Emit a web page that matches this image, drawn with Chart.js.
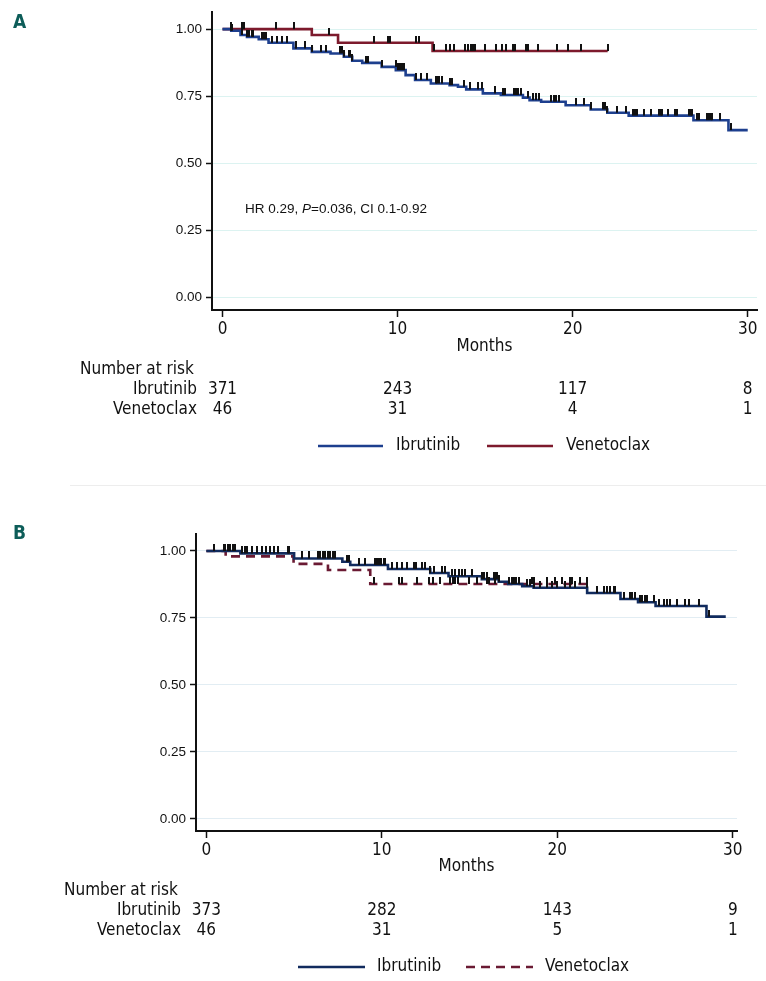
<!DOCTYPE html>
<html><head><meta charset="utf-8">
<script src="https://cdn.jsdelivr.net/npm/chart.js@4.4.1/dist/chart.umd.min.js"></script>
<style>
html,body{margin:0;padding:0;background:#fff;}
#wrap{position:relative;width:766px;height:981px;overflow:hidden;background:#fff;}
canvas{position:absolute;left:0;top:0;width:766px;height:981px;}
#sep{position:absolute;left:70px;top:485px;width:696px;height:1px;background:#ededed;}
</style></head><body>
<div id="wrap"><div id="sep"></div><canvas id="cA" width="766" height="981"></canvas><canvas id="cB" width="766" height="981"></canvas></div>
<script>
// ---------- DATA ----------
const monthTicks = [0, 10, 20, 30];
const survTicks = [0, 0.25, 0.5, 0.75, 1];
const seriesNames = ['Ibrutinib', 'Venetoclax'];

// Panel A
const aIbruTimes = [0,0.5,1.03,1.4,2.07,2.63,4.05,5.1,6.17,6.93,7.41,7.98,9.09,9.9,10.46,11.0,11.9,12.97,13.45,13.92,14.87,15.9,17.16,17.54,18.2,19.6,21.03,21.98,23.2,26.9,28.9,30.0];
const aIbruSurv  = [1.000,0.994,0.978,0.971,0.962,0.949,0.928,0.915,0.909,0.897,0.882,0.874,0.859,0.847,0.828,0.810,0.797,0.791,0.785,0.775,0.760,0.754,0.744,0.735,0.729,0.716,0.700,0.688,0.677,0.660,0.623,0.623];
const aIbruCens  = [0.51,0.57,1.13,1.41,1.5,1.66,1.73,2.27,2.36,2.46,2.84,3.13,3.41,3.7,4.17,4.21,4.74,5.13,5.6,5.89,6.69,6.8,6.93,7.22,7.31,7.41,8.17,8.33,9.13,9.89,10.04,10.15,10.27,10.38,11.03,11.31,11.7,12.17,12.27,12.36,12.51,12.97,13.09,13.79,14.11,14.61,14.84,15.54,16.02,16.13,16.65,16.74,16.9,17.03,17.47,17.73,17.89,18.07,18.74,18.93,19.07,19.22,20.17,20.65,21.03,21.73,21.85,21.98,22.55,23.07,23.45,23.56,23.7,24.07,24.46,24.93,25.03,25.13,25.47,25.85,25.98,26.65,26.74,26.84,27.13,27.22,27.7,27.79,27.89,27.98,28.42,29.03];
const aVeneTimes = [0,5.1,6.6,12.0,22.0];
const aVeneSurv  = [1.000,0.978,0.949,0.918,0.918];
const aVeneCens  = [0.5,1.1,1.25,3.07,4.1,6.06,8.67,9.47,9.58,11.07,11.22,12.07,12.74,12.97,13.2,13.83,14.04,14.19,14.3,14.42,14.99,15.64,15.98,16.17,16.61,16.7,17.31,17.47,18.02,19.12,19.71,20.47,22.0];
const aRiskIbru = [371, 243, 117, 8];
const aRiskVene = [46, 31, 4, 1];

// Panel B
const bIbruTimes = [0,1.94,5.0,7.75,8.2,10.35,12.76,13.8,15.7,16.66,17.2,18.0,18.65,21.7,23.6,24.6,25.6,28.5,29.6];
const bIbruSurv  = [1.000,0.991,0.972,0.960,0.948,0.933,0.918,0.906,0.895,0.885,0.877,0.869,0.863,0.843,0.821,0.809,0.795,0.755,0.755];
const bIbruCens  = [0.42,0.99,1.08,1.24,1.37,1.5,1.65,2.03,2.18,2.32,2.6,2.89,3.17,3.4,3.65,3.83,4.09,4.66,4.73,5.45,5.83,6.36,6.5,6.63,6.78,6.93,7.07,7.2,7.31,8.02,8.11,8.68,9.06,9.59,9.73,9.86,9.97,10.1,10.2,10.58,10.87,11.15,11.44,11.81,11.95,12.29,12.48,12.76,12.95,13.43,13.58,14.0,14.15,14.38,14.57,14.72,15.14,15.71,15.8,15.99,16.37,16.47,16.56,16.66,17.22,17.42,17.51,17.61,17.79,18.27,18.46,18.65,19.03,19.41,19.7,19.98,20.46,20.74,21.03,21.69,22.26,22.64,22.83,23.02,23.21,23.3,23.78,24.16,24.26,24.44,24.73,24.82,25.01,25.11,25.49,25.77,26.06,26.25,26.44,26.82,27.29,27.48,28.05,28.62];
const bVeneTimes = [0,1.1,4.97,6.93,9.34,21.7];
const bVeneSurv  = [1.000,0.980,0.952,0.929,0.877,0.877];
const bVeneCens  = [9.53,10.96,11.15,12.0,12.67,12.9,13.33,13.9,14.06,14.19,14.32,14.95,15.42,15.99,16.09,16.47,17.44,17.66,18.56,18.65,19.41,19.89,20.27,20.74,20.84,21.31,21.69];
const bRiskIbru = [373, 282, 143, 9];
const bRiskVene = [46, 31, 5, 1];

// ---------- HELPERS ----------
const NARROW = "'DejaVu Sans Condensed','Liberation Sans Narrow',sans-serif";
const ARIAL = "'Liberation Sans',Arial,sans-serif";

function survAt(times, surv, t){
  let v = surv[0];
  for (let i = 0; i < times.length; i++) if (times[i] <= t) v = surv[i];
  return v;
}
function toPts(times, surv){ return times.map((t,i)=>({x:t, y:surv[i]})); }
function censPts(cens, times, surv){ return cens.map(t=>({x:t, y:survAt(times, surv, t)})); }
function tickImage(color){
  const c = document.createElement('canvas');
  c.width = 2; c.height = 14;
  const g = c.getContext('2d');
  g.fillStyle = color; g.fillRect(0,0,2,7);
  return c;
}
const TICK = tickImage('#111');

function lineDs(label, times, surv, color, dash, order){
  return {label, type:'line', data:toPts(times, surv), borderColor:color, borderWidth:2.6,
    borderDash:dash||[], stepped:true, pointRadius:0, fill:false, order, tension:0};
}
function censDs(cens, times, surv){
  return {type:'line', showLine:false, data:censPts(cens, times, surv), pointStyle:TICK,
    pointRadius:3, pointHoverRadius:3, order:0};
}

function extras(p){
  return {id:'extras', afterDraw(chart){
    const ctx = chart.ctx, xs = chart.scales.x, ca = chart.chartArea;
    ctx.save();
    ctx.fillStyle = '#0d5d59';
    ctx.font = "bold 19px " + NARROW;
    ctx.textAlign = 'left'; ctx.textBaseline = 'middle';
    ctx.fillText(p.letter, p.letterX, p.letterY);
    ctx.fillStyle = '#111';
    ctx.font = "17px " + NARROW;
    ctx.textAlign = 'center';
    ctx.fillText('Months', (ca.left + ca.right)/2, p.monthsY);
    ctx.textAlign = 'left';
    ctx.fillText('Number at risk', p.riskTitleX, p.riskY[0]);
    const rows = [[seriesNames[0], p.riskIbru],[seriesNames[1], p.riskVene]];
    rows.forEach((r, k)=>{
      const y = p.riskY[k+1];
      ctx.textAlign = 'right';
      ctx.fillText(r[0], p.rowRight, y);
      ctx.textAlign = 'center';
      r[1].forEach((v,i)=> ctx.fillText(String(v), xs.getPixelForValue(monthTicks[i]), y));
    });
    // legend
    p.legend.forEach((it, i)=>{
      const ds = chart.data.datasets[i];
      ctx.strokeStyle = ds.borderColor; ctx.lineWidth = 2.6;
      ctx.setLineDash(ds.borderDash || []);
      ctx.beginPath(); ctx.moveTo(it.x1, p.legendY); ctx.lineTo(it.x2, p.legendY); ctx.stroke();
      ctx.setLineDash([]);
      ctx.textAlign = 'left'; ctx.fillStyle = '#111';
      ctx.fillText(ds.label, it.tx, p.legendY);
    });
    if (p.note){
      let x = p.note.x; const y = p.note.y;
      ctx.textAlign = 'left';
      p.note.parts.forEach(pt=>{
        ctx.font = (pt.it ? 'italic ' : '') + '13.5px ' + ARIAL;
        ctx.fillText(pt.t, x, y);
        x += ctx.measureText(pt.t).width;
      });
    }
    ctx.restore();
  }};
}

function makeChart(id, p, datasets){
  return new Chart(document.getElementById(id), {
    type:'line',
    data:{datasets},
    options:{
      responsive:false, animation:false, events:[],
      layout:{padding:{top:p.top, right:p.right, left:0, bottom:p.bottom}},
      plugins:{legend:{display:false}, tooltip:{enabled:false}},
      scales:{
        x:{type:'linear', min:p.xmin, max:p.xmax,
          afterBuildTicks:s=>{ s.ticks = monthTicks.map(v=>({value:v})); },
          afterFit:s=>{ s.height = 40; },
          ticks:{autoSkip:false, maxRotation:0, padding:2, color:'#111', font:{family:NARROW, size:17}, callback:v=>String(v)},
          grid:{drawOnChartArea:false, drawTicks:true, tickLength:7, tickColor:'#111', tickWidth:1.5},
          border:{display:true, color:'#111', width:2}},
        y:{type:'linear', min:p.ymin, max:p.ymax,
          afterBuildTicks:s=>{ s.ticks = survTicks.map(v=>({value:v})); },
          afterFit:s=>{ s.width = p.yw; },
          ticks:{padding:4, color:'#111', font:{family:ARIAL, size:13.5}, callback:v=>Number(v).toFixed(2)},
          grid:{color:p.grid, lineWidth:1, drawTicks:true, tickLength:6, tickColor:'#111', tickWidth:1.5},
          border:{display:true, color:'#111', width:2}}
      }
    },
    plugins:[extras(p)]
  });
}

// Panel A
makeChart('cA', {
  top:12, right:9, bottom:631, yw:212, xmin:-0.6, xmax:30.53, ymin:-0.0485, ymax:1.0634,
  grid:'#dcf3f1', letter:'A', letterX:13, letterY:23, monthsY:347,
  riskTitleX:80, riskY:[370,390,410], rowRight:197, riskIbru:aRiskIbru, riskVene:aRiskVene,
  legendY:446, legend:[{x1:318,x2:383,tx:396},{x1:487,x2:553,tx:566}],
  note:{x:245, y:209, parts:[{t:'HR 0.29, '},{t:'P',it:true},{t:'=0.036, CI 0.1-0.92'}]}
}, [
  lineDs(seriesNames[0], aIbruTimes, aIbruSurv, '#1d3f8e', null, 1),
  lineDs(seriesNames[1], aVeneTimes, aVeneSurv, '#7d1a2c', null, 2),
  censDs(aIbruCens, aIbruTimes, aIbruSurv),
  censDs(aVeneCens, aVeneTimes, aVeneSurv)
]);

// Panel B
makeChart('cB', {
  top:534, right:29, bottom:110, yw:196, xmin:-0.59, xmax:30.24, ymin:-0.0448, ymax:1.0634,
  grid:'#e2edf3', letter:'B', letterX:13, letterY:534, monthsY:867,
  riskTitleX:64, riskY:[891,911,931], rowRight:181, riskIbru:bRiskIbru, riskVene:bRiskVene,
  legendY:967, legend:[{x1:298,x2:365,tx:377},{x1:466,x2:533,tx:545}]
}, [
  lineDs(seriesNames[0], bIbruTimes, bIbruSurv, '#112b5e', null, 1),
  lineDs(seriesNames[1], bVeneTimes, bVeneSurv, '#6a1a33', [9,6], 2),
  censDs(bIbruCens, bIbruTimes, bIbruSurv),
  censDs(bVeneCens, bVeneTimes, bVeneSurv)
]);
</script>
</body></html>
